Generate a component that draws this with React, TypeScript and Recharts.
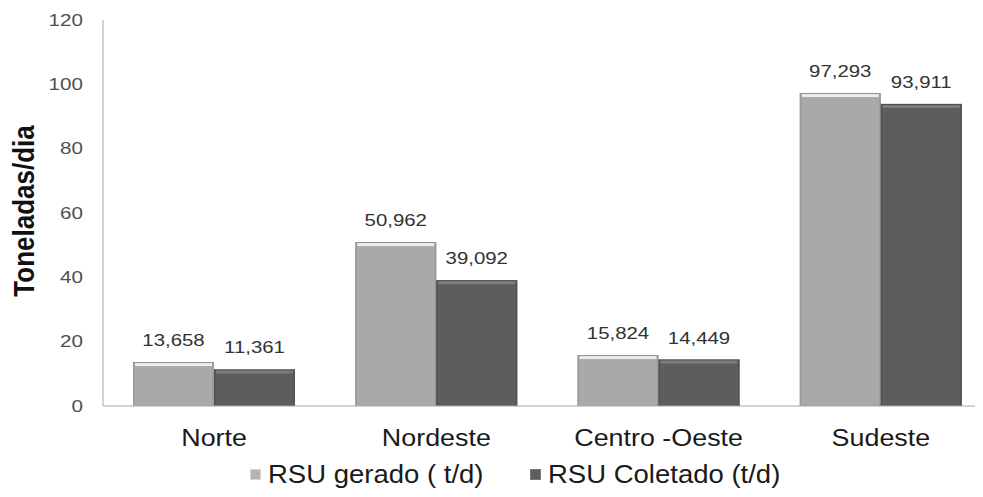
import React from 'react';
import { BarChart, Bar, XAxis, YAxis, LabelList, Legend } from 'recharts';

const categories = ['Norte', 'Nordeste', 'Centro -Oeste', 'Sudeste'];
const gerado = [13.658, 50.962, 15.824, 97.293];
const coletado = [11.361, 39.092, 14.449, 93.911];
const yTicks = [0, 20, 40, 60, 80, 100, 120];
const seriesNames = ['RSU gerado ( t/d)', 'RSU Coletado (t/d)'];

const data = categories.map((c, i) => ({ name: c, gerado: gerado[i], coletado: coletado[i] }));

const FONT = '"Liberation Sans", Arial, sans-serif';

const fmt = (v: any) => Number(v).toFixed(3).replace('.', ',');

const makeShape = (fill: string, hi: string, edge: string, topLine: string) => (props: any) => {
  const { x, y, width, height } = props;
  if (!height || height <= 0) return null;
  return (
    <g>
      <rect x={x} y={y} width={width} height={height} fill={fill} />
      <rect x={x + 1} y={y} width={width - 2} height={Math.min(1, height)} fill={topLine} />
      <rect x={x + 2} y={y + 1} width={width - 4} height={Math.min(3, height)} fill={hi} />
      <rect x={x} y={y} width={1.5} height={height} fill={edge} />
      <rect x={x + width - 1.5} y={y} width={1.5} height={height} fill={edge} />
    </g>
  );
};

const shapeGerado = makeShape('#a9a9a9', '#ececec', '#999999', '#8f8f8f');
const shapeColetado = makeShape('#5d5d5d', '#7c7c7c', '#525252', '#4a4a4a');

const legendColors = ['#b4b4b4', '#5d5d5d'];
const legendBorders = ['#d6d6d6', '#7a7a7a'];

const LegendContent = () => (
  <div
    style={{
      height: 28,
      display: 'flex',
      alignItems: 'center',
      fontFamily: FONT,
      fontSize: 25,
      color: '#1a1a1a',
      paddingLeft: 250 - 43,
      whiteSpace: 'nowrap',
    }}
  >
    {seriesNames.map((n, i) => (
      <div key={n} style={{ display: 'flex', alignItems: 'center', marginLeft: i === 0 ? 0 : 46 }}>
        <span
          style={{
            display: 'inline-block',
            width: 9,
            height: 9,
            background: legendColors[i],
            border: '1px solid ' + legendBorders[i],
            marginRight: 7,
          }}
        />
        <span style={{ display: 'inline-block', transform: 'scaleX(1.1)', transformOrigin: 'left center' }}>{n}</span>
        <span style={{ display: 'inline-block', width: i === 0 ? 20 : 0 }} />
      </div>
    ))}
  </div>
);

const YLabel = (props: any) => {
  const vb = props.viewBox || {};
  const cy = vb.y + vb.height / 2 - 2;
  return (
    <text
      transform={`translate(24, ${cy}) scale(1.15, 1) rotate(-90)`}
      textAnchor="middle"
      dominantBaseline="central"
      fontFamily={FONT}
      fontSize={26}
      fontWeight="bold"
      fill="#111"
    >
      Toneladas/dia
    </text>
  );
};

const XTick = (props: any) => {
  const { x, y, payload } = props;
  return (
    <text
      transform={`translate(${x}, ${y}) scale(1.12, 1)`}
      textAnchor="middle"
      dominantBaseline="central"
      fontFamily={FONT}
      fontSize={24}
      fill="#1a1a1a"
    >
      {payload.value}
    </text>
  );
};

const YTick = (props: any) => {
  const { x, y, payload } = props;
  return (
    <text
      transform={`translate(${x}, ${y}) scale(1.25, 1)`}
      textAnchor="end"
      dominantBaseline="central"
      fontFamily={FONT}
      fontSize={16.5}
      fill="#505050"
    >
      {payload.value}
    </text>
  );
};

const BarLabel = (props: any) => {
  const { x, y, width, value } = props;
  return (
    <text
      transform={`translate(${Number(x) + Number(width) / 2}, ${Number(y) - 16}) scale(1.2, 1)`}
      textAnchor="middle"
      fontFamily={FONT}
      fontSize={17}
      fill="#333"
    >
      {fmt(value)}
    </text>
  );
};

export default function App() {
  return (
    <div style={{ width: 983, height: 497, overflow: 'hidden', margin: '-8px 0 0 -8px', background: '#fff' }}>
      <BarChart
        width={995}
        height={497}
        data={data}
        margin={{ top: 20, right: 3, left: 43, bottom: 9 }}
        barCategoryGap="13.5%"
        barGap={0}
      >
        <XAxis
          dataKey="name"
          height={54}
          axisLine={{ stroke: '#a6a6a6' }}
          tickLine={false}
          tickMargin={26}
          tick={<XTick />}
        />
        <YAxis
          width={60}
          domain={[0, 120]}
          ticks={yTicks}
          interval={0}
          axisLine={{ stroke: '#a6a6a6' }}
          tickLine={false}
          tickMargin={14}
          tick={<YTick />}
          label={{ content: <YLabel /> }}
        />
        <Legend verticalAlign="bottom" height={28} content={<LegendContent />} />
        <Bar dataKey="gerado" name={seriesNames[0]} fill="#a9a9a9" shape={shapeGerado} isAnimationActive={false}>
          <LabelList dataKey="gerado" content={<BarLabel />} />
        </Bar>
        <Bar dataKey="coletado" name={seriesNames[1]} fill="#5d5d5d" shape={shapeColetado} isAnimationActive={false}>
          <LabelList dataKey="coletado" content={<BarLabel />} />
        </Bar>
      </BarChart>
    </div>
  );
}
